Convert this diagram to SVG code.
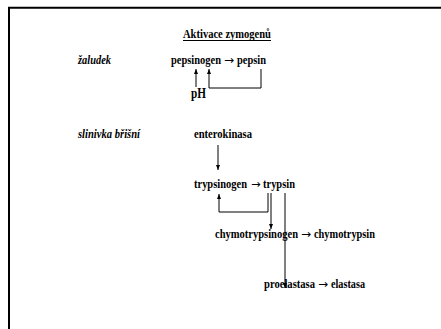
<svg xmlns="http://www.w3.org/2000/svg" width="441" height="329" viewBox="0 0 441 329">
<defs>
<style>
text{font-family:"Liberation Serif","Times New Roman",serif;font-weight:bold;font-size:13.5px;fill:#000}
.it{font-style:italic}
.ar{font-family:"DejaVu Sans",sans-serif;font-weight:normal;font-size:12px}
.c{fill:none;stroke:#000;stroke-width:1}
</style>
<marker id="ah" markerWidth="5" markerHeight="4" refX="5" refY="2" orient="auto" markerUnits="userSpaceOnUse" viewBox="0 0 5 4"><path d="M0,0 L5,2 L0,4 Z" fill="#000"/></marker>
</defs>
<rect width="441" height="329" fill="#fff"/>
<path d="M9,329 V7.7 H441" fill="none" stroke="#000" stroke-width="2"/>
<g id="title"><text transform="translate(183,38) scale(0.78,1)" textLength="112.8" lengthAdjust="spacingAndGlyphs">Aktivace zymogenů</text><line x1="183" y1="40.5" x2="271" y2="40.5" stroke="#000" stroke-width="1"/></g>
<g id="zaludek"><text class="it" transform="translate(78,64) scale(0.78,1)" textLength="42.3" lengthAdjust="spacingAndGlyphs">žaludek</text></g>
<g id="pepsin">
<text transform="translate(171,64) scale(0.78,1)" textLength="64.1" lengthAdjust="spacingAndGlyphs">pepsinogen</text>
<text class="ar" x="224" y="64" textLength="10" lengthAdjust="spacingAndGlyphs">→</text>
<text transform="translate(237,64) scale(0.78,1)" textLength="37.2" lengthAdjust="spacingAndGlyphs">pepsin</text>
</g>
<g id="pH"><text transform="translate(191,98) scale(0.78,1)" style="font-size:15px" textLength="19.2" lengthAdjust="spacingAndGlyphs">pH</text></g>
<g id="slinivka"><text class="it" transform="translate(78,138) scale(0.78,1)" textLength="79.5" lengthAdjust="spacingAndGlyphs">slinivka břišní</text></g>
<g id="enterokinasa"><text transform="translate(194,138) scale(0.78,1)" textLength="74.4" lengthAdjust="spacingAndGlyphs">enterokinasa</text></g>
<g id="trypsin">
<text transform="translate(194,188) scale(0.78,1)" textLength="67.9" lengthAdjust="spacingAndGlyphs">trypsinogen</text>
<text class="ar" x="251" y="188" textLength="9.5" lengthAdjust="spacingAndGlyphs">→</text>
<text transform="translate(263,188) scale(0.78,1)" textLength="41" lengthAdjust="spacingAndGlyphs">trypsin</text>
</g>
<g id="chymotrypsin">
<text transform="translate(215,238) scale(0.78,1)" textLength="106.4" lengthAdjust="spacingAndGlyphs">chymotrypsinogen</text>
<text class="ar" x="301" y="238" textLength="10" lengthAdjust="spacingAndGlyphs">→</text>
<text transform="translate(314,238) scale(0.78,1)" textLength="78.2" lengthAdjust="spacingAndGlyphs">chymotrypsin</text>
</g>
<g id="elastasa">
<text transform="translate(264,288) scale(0.78,1)" textLength="65.4" lengthAdjust="spacingAndGlyphs">proelastasa</text>
<text class="ar" x="318" y="288" textLength="10" lengthAdjust="spacingAndGlyphs">→</text>
<text transform="translate(331,288) scale(0.78,1)" textLength="43.6" lengthAdjust="spacingAndGlyphs">elastasa</text>
</g>
<g id="connectors">
<path class="c" d="M196,87 V69" marker-end="url(#ah)"/>
<path class="c" d="M261,69 V88 H209 V69" marker-end="url(#ah)"/>
<path class="c" d="M218,145 V170" marker-end="url(#ah)"/>
<path class="c" d="M268,193 V212 H219 V194" marker-end="url(#ah)"/>
<path class="c" d="M271,193 V229" marker-end="url(#ah)"/>
<path class="c" d="M285,193 V288" marker-end="url(#ah)"/>
</g>
</svg>
